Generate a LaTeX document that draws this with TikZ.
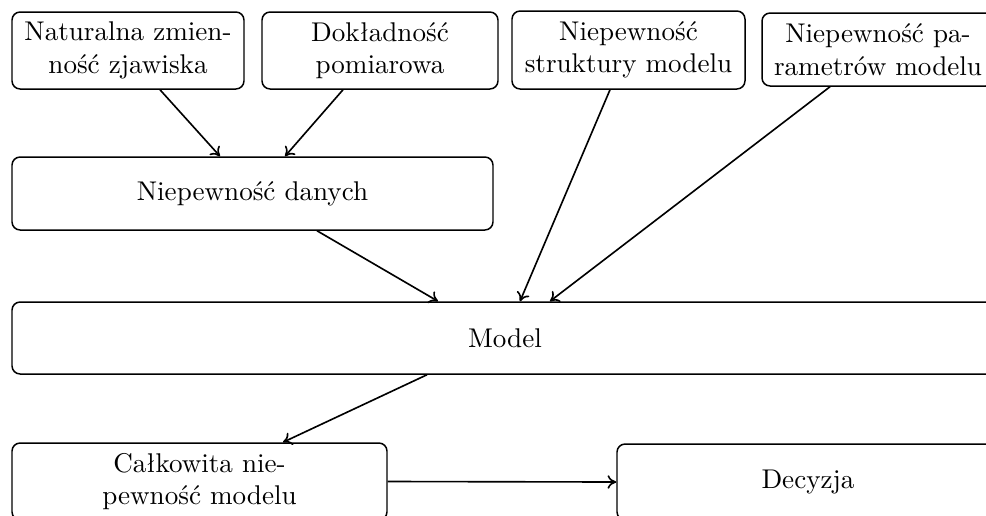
\documentclass[tikz,border=0pt]{standalone}
\usepackage{fontspec}
\usetikzlibrary{calc,arrows.meta}
\tikzset{
  bx/.style 2 args={draw, rectangle, rounded corners=3pt, line width=0.55pt,
    align=center, inner sep=0pt, minimum width=#1*0.369pt, minimum height=#2*0.369pt},
  conn/.style={-{To[length=3.2pt,width=5pt]}, line width=0.6pt}
}
\begin{document}
\begin{tikzpicture}[x=0.369pt, y=-0.369pt]
\path[use as bounding box, clip] (0,0) rectangle (986,515);
\node[bx={232}{77}] (nat) at (128,50.5) {Naturalna zmien-\\ność zjawiska};
\node[bx={236}{77}] (dok) at (380,50.5) {Dokładność\\pomiarowa};
\node[bx={233}{78}] (str) at (628.5,50) {Niepewność\\struktury modelu};
\node[bx={232}{73}] (par) at (878,49.5) {Niepewność pa-\\rametrów modelu};
\node[bx={481}{73}] (dan) at (252.5,193.5) {Niepewność danych};
\node[bx={986}{72}] (mod) at (505,338) {Model};
\node[bx={375}{77}] (cal) at (199.5,481.5) {Całkowita nie-\\pewność modelu};
\node[bx={382}{76}] (dec) at (808,482) {Decyzja};

\draw[conn] ($(nat.south)+(32,0)$) -- ($(dan.north)+(-32.5,0)$);
\draw[conn] ($(dok.south)+(-37,0)$) -- ($(dan.north)+(32.5,0)$);
\draw[conn] ($(str.south)+(-18.5,0)$) -- ($(mod.north)+(15,0)$);
\draw[conn] ($(par.south)+(-48,0)$) -- ($(mod.north)+(45,0)$);
\draw[conn] ($(dan.south)+(64.5,0)$) -- ($(mod.north)+(-67,0)$);
\draw[conn] ($(mod.south)+(-78,0)$) -- ($(cal.north)+(83.5,0)$);
\draw[conn] (cal.east) -- (dec.west);
\end{tikzpicture}
\end{document}
